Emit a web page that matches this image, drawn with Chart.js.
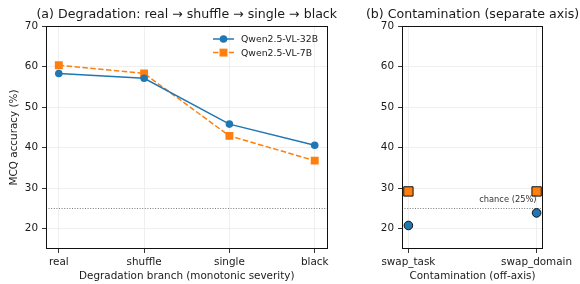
<!DOCTYPE html>
<html><head><meta charset="utf-8">
<script src="https://cdn.jsdelivr.net/npm/chart.js@4.4.1/dist/chart.umd.min.js"></script>
<style>
html,body{margin:0;padding:0;background:#fff;}
#wrap{position:relative;width:580px;height:284px;overflow:hidden;background:#fff;}
canvas{position:absolute;top:0;}
#c1{left:0;} #c2{left:345px;}
</style></head><body>
<div id="wrap"><canvas id="c1" width="345" height="284"></canvas><canvas id="c2" width="235" height="284"></canvas></div>
<script>
// ---- data ----
const degradationBranches = ['real', 'shuffle', 'single', 'black'];
const qwen32bDegradation = [58.3, 57.1, 45.8, 40.6];
const qwen7bDegradation  = [60.3, 58.3, 42.9, 36.8];
const contaminationConds = ['swap_task', 'swap_domain'];
const qwen32bContamination = [20.8, 23.9];
const qwen7bContamination  = [29.2, 29.2];
const yTicks = [20, 30, 40, 50, 60, 70];
const chanceLevel = 25;
const seriesNames = ['Qwen2.5-VL-32B', 'Qwen2.5-VL-7B'];
const panelTitles = ['(a) Degradation: real → shuffle → single → black', '(b) Contamination (separate axis)'];

// ---- style ----
const BLUE = '#1f77b4', ORANGE = '#ff7f0e';
const GRID = '#ebebeb', TICK = '#333', TXT = '#1a1a1a';
Chart.defaults.font.family = "'DejaVu Sans', sans-serif";
Chart.defaults.color = TXT;
const FS = 10.4;

const framePlugin = {
  id: 'frame',
  afterDraw(chart) {
    const {ctx, chartArea: a} = chart;
    ctx.save();
    ctx.strokeStyle = '#111';
    ctx.lineWidth = 1;
    ctx.strokeRect(Math.round(a.left) + 0.5, Math.round(a.top) + 0.5, Math.round(a.right - a.left) - 1, Math.round(a.bottom - a.top) - 1);
    ctx.restore();
  }
};

// panel title centred over the plot area (may overflow it, as in the original)
const panelTitle = {
  id: 'panelTitle',
  afterDraw(chart, args, opts) {
    if (!opts || !opts.text) return;
    const {ctx, chartArea: a} = chart;
    ctx.save();
    ctx.font = "12.6px 'DejaVu Sans'";
    ctx.fillStyle = TXT;
    ctx.textAlign = 'center';
    ctx.textBaseline = 'middle';
    ctx.fillText(opts.text, (a.left + a.right) / 2, a.top - 11);
    ctx.restore();
  }
};

const chancePlugin = {
  id: 'chance',
  beforeDatasetsDraw(chart) {
    const {ctx, chartArea: a, scales: {y}} = chart;
    const py = Math.round(y.getPixelForValue(chanceLevel)) + 0.5;
    ctx.save();
    ctx.strokeStyle = '#7a7a7a';
    ctx.lineWidth = 1;
    ctx.setLineDash([1, 1.6]);
    ctx.beginPath(); ctx.moveTo(a.left, py); ctx.lineTo(a.right, py); ctx.stroke();
    ctx.restore();
  },
  afterDatasetsDraw(chart, args, opts) {
    if (!opts || !opts.label) return;
    const {ctx, scales: {x, y}} = chart;
    ctx.save();
    ctx.font = "8.3px 'DejaVu Sans'";
    ctx.fillStyle = '#333';
    ctx.textAlign = 'right';
    ctx.textBaseline = 'bottom';
    ctx.fillText(opts.label, x.getPixelForValue(opts.at), y.getPixelForValue(chanceLevel) - 4.5);
    ctx.restore();
  }
};

function drawMarker(ctx, style, x, y, r) {
  ctx.beginPath();
  if (style === 'rect') { const s = Math.SQRT1_2 * r; ctx.rect(x - s, y - s, 2 * s, 2 * s); }
  else { ctx.arc(x, y, r, 0, Math.PI * 2); }
  ctx.fill();
}

const insideLegend = {
  id: 'insideLegend',
  afterDraw(chart, args, opts) {
    if (!opts || !opts.show) return;
    const {ctx, chartArea: a} = chart;
    ctx.save();
    ctx.font = "9.3px 'DejaVu Sans'";
    ctx.textBaseline = 'middle';
    ctx.textAlign = 'left';
    const x0 = a.right - 114.5;
    chart.data.datasets.forEach((ds, i) => {
      const yy = a.top + 13 + i * 13.6;
      ctx.strokeStyle = ds.borderColor; ctx.lineWidth = ds.borderWidth;
      ctx.setLineDash(ds.borderDash || []);
      ctx.beginPath(); ctx.moveTo(x0, yy); ctx.lineTo(x0 + 21, yy); ctx.stroke();
      ctx.setLineDash([]);
      ctx.fillStyle = ds.backgroundColor;
      drawMarker(ctx, ds.pointStyle, x0 + 10.5, yy, ds.pointRadius);
      ctx.fillStyle = TXT;
      ctx.fillText(ds.label, x0 + 28, yy + 0.5);
    });
    ctx.restore();
  }
};

const gridCfg = {color: GRID, tickColor: TICK, tickLength: 4, lineWidth: 0.8, tickWidth: 1};

// ---- panel (a) ----
new Chart(document.getElementById('c1'), {
  type: 'line',
  data: {
    datasets: [
      {label: seriesNames[0], data: degradationBranches.map((c, i) => ({x: i, y: qwen32bDegradation[i]})),
       borderColor: BLUE, backgroundColor: BLUE, borderWidth: 1.5, pointStyle: 'circle', pointRadius: 3.8, pointBorderWidth: 0, tension: 0},
      {label: seriesNames[1], data: degradationBranches.map((c, i) => ({x: i, y: qwen7bDegradation[i]})),
       borderColor: ORANGE, backgroundColor: ORANGE, borderWidth: 1.5, borderDash: [5.5, 2.4], pointStyle: 'rect', pointRadius: 5.6, pointBorderWidth: 0, tension: 0}
    ]
  },
  options: {
    responsive: false, animation: false, devicePixelRatio: 1,
    layout: {padding: {left: 0, right: 17.5, top: 26, bottom: 0}},
    plugins: {
      legend: {display: false}, tooltip: {enabled: false}, title: {display: false},
      panelTitle: {text: panelTitles[0]},
      insideLegend: {show: true}
    },
    scales: {
      x: {type: 'linear', min: -0.15, max: 3.15,
          afterBuildTicks: s => { s.ticks = degradationBranches.map((_, i) => ({value: i})); },
          ticks: {callback: v => degradationBranches[v], font: {size: FS}, padding: 3, maxRotation: 0, autoSkip: false},
          grid: gridCfg, border: {display: false},
          title: {display: true, text: 'Degradation branch (monotonic severity)', font: {size: FS}, color: TXT, padding: {top: 0, bottom: 1.8}},
          afterFit: s => { s.height = 35; }},
      y: {type: 'linear', min: 15, max: 70,
          afterBuildTicks: s => { s.ticks = yTicks.map(v => ({value: v})); },
          ticks: {font: {size: FS}, padding: 4},
          grid: gridCfg, border: {display: false},
          title: {display: true, text: 'MCQ accuracy (%)', font: {size: FS}, color: TXT, padding: {top: 7.8, bottom: 0}},
          afterFit: s => { s.width = 46; }}
    }
  },
  plugins: [chancePlugin, insideLegend, framePlugin, panelTitle]
});

// ---- panel (b) ----
new Chart(document.getElementById('c2'), {
  type: 'line',
  data: {
    datasets: [
      {label: seriesNames[0], data: contaminationConds.map((c, i) => ({x: i, y: qwen32bContamination[i]})), showLine: false,
       borderColor: '#111', backgroundColor: BLUE, pointStyle: 'circle', pointRadius: 4.3, pointBorderWidth: 1},
      {label: seriesNames[1], data: contaminationConds.map((c, i) => ({x: i, y: qwen7bContamination[i]})), showLine: false,
       borderColor: '#111', backgroundColor: ORANGE, pointStyle: 'rect', pointRadius: 6.6, pointBorderWidth: 1}
    ]
  },
  options: {
    responsive: false, animation: false, devicePixelRatio: 1,
    layout: {padding: {left: 0, right: 37, top: 26, bottom: 0}},
    plugins: {
      legend: {display: false}, tooltip: {enabled: false}, title: {display: false},
      panelTitle: {text: panelTitles[1]},
      chance: {label: 'chance (25%)', at: 1}
    },
    scales: {
      x: {type: 'linear', min: -0.05, max: 1.05,
          afterBuildTicks: s => { s.ticks = contaminationConds.map((_, i) => ({value: i})); },
          ticks: {callback: v => contaminationConds[v], font: {size: FS}, padding: 3, maxRotation: 0, autoSkip: false},
          grid: gridCfg, border: {display: false},
          title: {display: true, text: 'Contamination (off-axis)', font: {size: FS}, color: TXT, padding: {top: 0, bottom: 1.8}},
          afterFit: s => { s.height = 35; }},
      y: {type: 'linear', min: 15, max: 70,
          afterBuildTicks: s => { s.ticks = yTicks.map(v => ({value: v})); },
          ticks: {font: {size: FS}, padding: 4},
          grid: gridCfg, border: {display: false},
          afterFit: s => { s.width = 57; }}
    }
  },
  plugins: [chancePlugin, framePlugin, panelTitle]
});
</script>
</body></html>
